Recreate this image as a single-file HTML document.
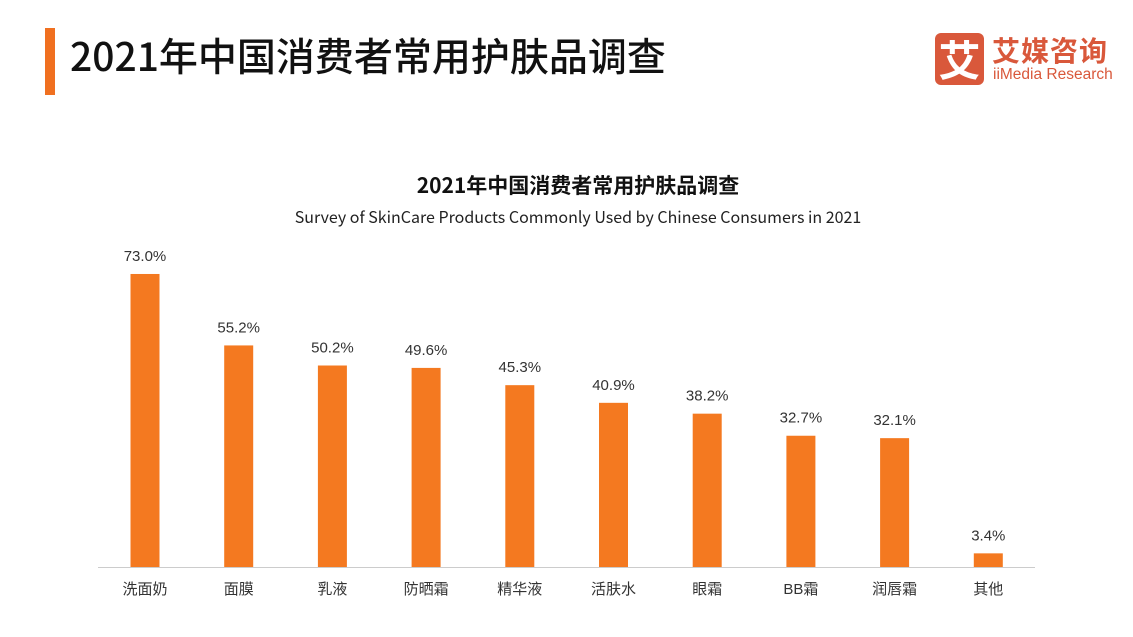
<!DOCTYPE html>
<html><head><meta charset="utf-8"><style>
body{margin:0;width:1133px;height:637px;background:#fff;overflow:hidden;position:relative;font-family:"Liberation Sans","Noto Sans CJK SC",sans-serif}
.abs{position:absolute}
</style></head><body>
<div class="abs" style="left:45px;top:28px;width:10px;height:67px;background:#f07020"></div>
<div class="abs" style="left:70px;top:30px;font-size:39px;line-height:50px;color:#111;font-family:'Noto Sans CJK SC',sans-serif;font-weight:500">2021年中国消费者常用护肤品调查</div>
<div class="abs" style="left:935px;top:33px;width:49px;height:52px;background:#d9583b;border-radius:6px;color:#fff;font-size:42px;line-height:52px;text-align:center;font-family:'Noto Sans CJK SC',sans-serif;font-weight:bold">艾</div>
<div class="abs" style="left:992px;top:33px;font-size:28px;line-height:34px;color:#d9583b;font-weight:bold;font-family:'Noto Sans CJK SC',sans-serif;letter-spacing:1px">艾媒咨询</div>
<div class="abs" style="left:993px;top:66px;font-size:15.5px;line-height:18px;color:#d9583b">iiMedia Research</div>
<svg class="abs" style="left:0;top:0" width="1133" height="637">
<text x="578" y="193" text-anchor="middle" font-size="21" font-weight="bold" fill="#111" font-family="Noto Sans CJK SC,sans-serif">2021年中国消费者常用护肤品调查</text>
<text x="578" y="223" text-anchor="middle" font-size="16" fill="#222" font-family="Noto Sans CJK SC,Liberation Sans,sans-serif">Survey of SkinCare Products Commonly Used by Chinese Consumers in 2021</text>
<line x1="98" y1="567.5" x2="1035" y2="567.5" stroke="#ccc"/>
<g id="bars"></g>
</svg>
<script>
const categories=["洗面奶","面膜","乳液","防晒霜","精华液","活肤水","眼霜","BB霜","润唇霜","其他"];
const values=[73.0,55.2,50.2,49.6,45.3,40.9,38.2,32.7,32.1,3.4];
const labels=["73.0%","55.2%","50.2%","49.6%","45.3%","40.9%","38.2%","32.7%","32.1%","3.4%"];
const NS="http://www.w3.org/2000/svg";
const g=document.getElementById('bars');
const x0=145,step=93.7,base=567,scale=4.014,bw=29;
const xs=i=>x0+i*step, ys=v=>base-v*scale;
categories.forEach((c,i)=>{
  const r=document.createElementNS(NS,'rect');
  r.setAttribute('x',xs(i)-bw/2);r.setAttribute('y',ys(values[i]));
  r.setAttribute('width',bw);r.setAttribute('height',base-ys(values[i]));
  r.setAttribute('fill','#f47920');
  
  
  g.appendChild(r);
  const t=document.createElementNS(NS,'text');
  t.setAttribute('x',xs(i));t.setAttribute('y',ys(values[i])-13);
  t.setAttribute('text-anchor','middle');t.setAttribute('font-size','15');t.setAttribute('fill','#333');
  t.textContent=labels[i];
  
  
  g.appendChild(t);
  const l=document.createElementNS(NS,'text');
  l.setAttribute('x',xs(i));l.setAttribute('y',594);
  l.setAttribute('text-anchor','middle');l.setAttribute('font-size','15');l.setAttribute('fill','#333');
  l.setAttribute('font-family','Liberation Sans,Noto Sans CJK SC,sans-serif');
  l.textContent=c;
  
  
  g.appendChild(l);
});
</script>
</body></html>
